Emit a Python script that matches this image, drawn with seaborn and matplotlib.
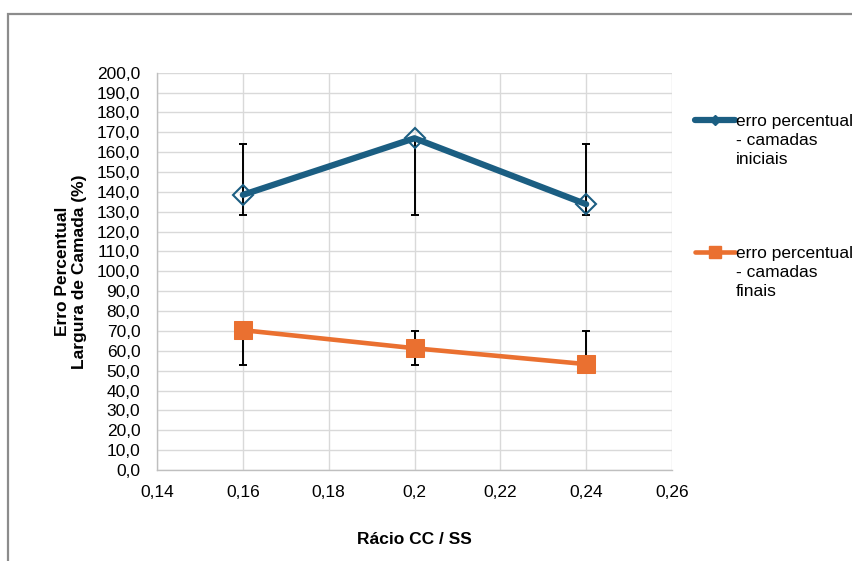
# Erro percentual da largura de camada vs rácio CC/SS

import pandas as pd
import seaborn as sns
import matplotlib.pyplot as plt
from matplotlib.patches import Rectangle
from matplotlib.lines import Line2D

# Data
ratio = [0.16, 0.2, 0.24]
erro_iniciais = [138.5, 167.0, 133.8]
erro_iniciais_min = [128.6, 128.6, 128.6]
erro_iniciais_max = [164.2, 167.0, 164.2]
erro_finais = [70.4, 61.3, 53.3]
erro_finais_min = [52.9, 52.9, 53.3]
erro_finais_max = [70.4, 70.2, 70.2]

x_ticks = [0.14, 0.16, 0.18, 0.2, 0.22, 0.24, 0.26]
x_tick_labels = ['0,14', '0,16', '0,18', '0,2', '0,22', '0,24', '0,26']
y_ticks = list(range(0, 201, 10))
y_tick_labels = ['%d,0' % v for v in y_ticks]

label_iniciais = 'erro percentual\n- camadas\niniciais'
label_finais = 'erro percentual\n- camadas\nfinais'

blue = '#1b5e82'
orange = '#ea7030'

df = pd.DataFrame({'ratio': ratio, 'iniciais': erro_iniciais, 'finais': erro_finais})

# Configure plotting window
sns.set_theme(style='whitegrid')
plt.rcParams['font.family'] = ['Liberation Sans', 'DejaVu Sans']
plt.rcParams['text.color'] = 'black'

fs = 12.5

fig = plt.figure(figsize=(8.52, 5.61), dpi=100)
ax = fig.add_axes([157 / 852, 1 - 470 / 561, (672 - 157) / 852, (470 - 72.7) / 561])

# outer chart border (cut off at right and bottom)
fig.patches.append(Rectangle((8 / 852, -0.1), 1.2, 1 - 14 / 561 + 0.1, transform=fig.transFigure,
                             fill=False, edgecolor='#8c8c8c', linewidth=1.6))

# error bars behind the lines
for vals, lo, hi in [(erro_iniciais, erro_iniciais_min, erro_iniciais_max),
                     (erro_finais, erro_finais_min, erro_finais_max)]:
    yerr = [[v - l for v, l in zip(vals, lo)], [h - v for v, h in zip(vals, hi)]]
    ax.errorbar(ratio, vals, yerr=yerr, fmt='none', ecolor='black', elinewidth=1.4,
                capsize=3, capthick=1.4, zorder=2)

sns.lineplot(data=df, x='ratio', y='iniciais', ax=ax, color=blue, linewidth=4.5,
             marker='D', markersize=10, markerfacecolor='none', markeredgecolor=blue,
             markeredgewidth=1.5, zorder=3)
sns.lineplot(data=df, x='ratio', y='finais', ax=ax, color=orange, linewidth=3.3,
             marker='s', markersize=13, markerfacecolor=orange, markeredgecolor=orange,
             zorder=3)

ax.set_xlim(0.14, 0.26)
ax.set_ylim(0, 200)
ax.set_xticks(x_ticks)
ax.set_xticklabels(x_tick_labels)
ax.set_yticks(y_ticks)
ax.set_yticklabels(y_tick_labels)
ax.tick_params(axis='y', labelsize=fs, labelcolor='black', length=0, pad=12)
ax.tick_params(axis='x', labelsize=fs, labelcolor='black', length=0, pad=11)
ax.grid(True, color='#d9d9d9', linewidth=1)
for side in ['top', 'right']:
    ax.spines[side].set_visible(False)
for side in ['left', 'bottom']:
    ax.spines[side].set_color('#bfbfbf')
    ax.spines[side].set_linewidth(1)

ax.set_xlabel('Rácio CC / SS', fontsize=fs, fontweight='bold', labelpad=23, color='black')
ax.set_ylabel('Erro Percentual\nLargura de Camada (%)', fontsize=fs, fontweight='bold',
              labelpad=7, color='black', linespacing=1.2)

# legend: handle next to the first line of each label, as in the original
for label, color, marker, msize, ytop in [(label_iniciais, blue, 'D', 5, 120),
                                          (label_finais, orange, 's', 8, 252)]:
    yf = 1 - ytop / 561
    fig.add_artist(Line2D([695 / 852, 735 / 852], [yf, yf], transform=fig.transFigure,
                          color=color, linewidth=4.5 if color == blue else 3.3,
                          solid_capstyle='round'))
    fig.add_artist(Line2D([715 / 852], [yf], transform=fig.transFigure, color=color,
                          marker=marker, markersize=msize, linestyle='none'))
    fig.text(736 / 852, yf + 6 / 561, label, fontsize=fs, va='top', ha='left',
             linespacing=1.33, transform=fig.transFigure)

plt.savefig('out.png', dpi=100)
